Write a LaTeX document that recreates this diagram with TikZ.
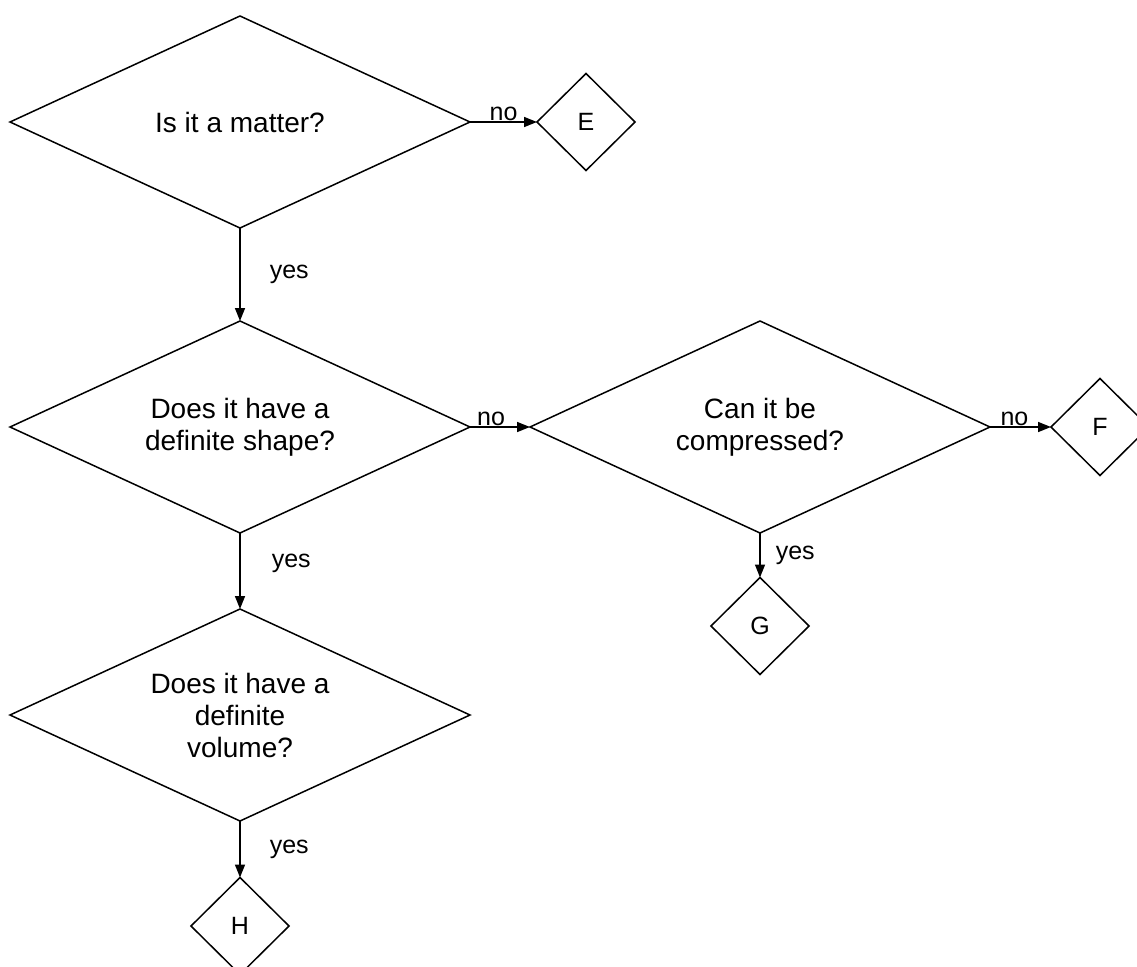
\documentclass[tikz,border=0pt]{standalone}
\usepackage{fontspec}
\setmainfont{Liberation Sans}
\usetikzlibrary{shapes.geometric,arrows.meta}
\begin{document}
\begin{tikzpicture}[x=1pt,y=-1pt,
  dec/.style={draw, shape=diamond, aspect=2.17, inner sep=0pt, outer sep=0pt, minimum width=460pt, minimum height=212pt, align=center, font=\fontsize{28}{32}\selectfont, line width=1.5pt},
  leaf/.style={draw, shape=diamond, inner sep=0pt, outer sep=0pt, minimum width=98pt, minimum height=97pt, font=\fontsize{25}{30}\selectfont, line width=1.5pt},
  arr/.style={-{Triangle[length=13pt,width=10pt]}, line width=1.5pt},
  lbl/.style={font=\fontsize{25}{30}\selectfont, inner sep=1pt}]
\useasboundingbox (0,0) rectangle (1137,966);
\node[dec] (d1) at (240,122) {Is it a matter?};
\node[leaf] (e) at (586,122) {E};
\node[dec] (d2) at (240,427) {Does it have a\\definite shape?};
\node[dec] (d3) at (760,427) {Can it be\\compressed?};
\node[leaf] (f) at (1100,427) {F};
\node[leaf] (g) at (760,626) {G};
\node[dec] (d4) at (240,715) {Does it have a\\definite\\volume?};
\node[leaf] (h) at (240,926) {H};
\draw[arr] (d1.east) -- node[lbl, above, pos=.5] {no} (e.west);
\draw[arr] (d1.south) -- node[lbl, right=28pt] {yes} (d2.north);
\draw[arr] (d2.east) -- node[lbl, above, pos=.35] {no} (d3.west);
\draw[arr] (d3.east) -- node[lbl, above, pos=.4] {no} (f.west);
\draw[arr] (d3.south) -- node[lbl, right=14pt] {yes} (g.north);
\draw[arr] (d2.south) -- node[lbl, right=30pt, pos=.4] {yes} (d4.north);
\draw[arr] (d4.south) -- node[lbl, right=28pt] {yes} (h.north);
\end{tikzpicture}
\end{document}
